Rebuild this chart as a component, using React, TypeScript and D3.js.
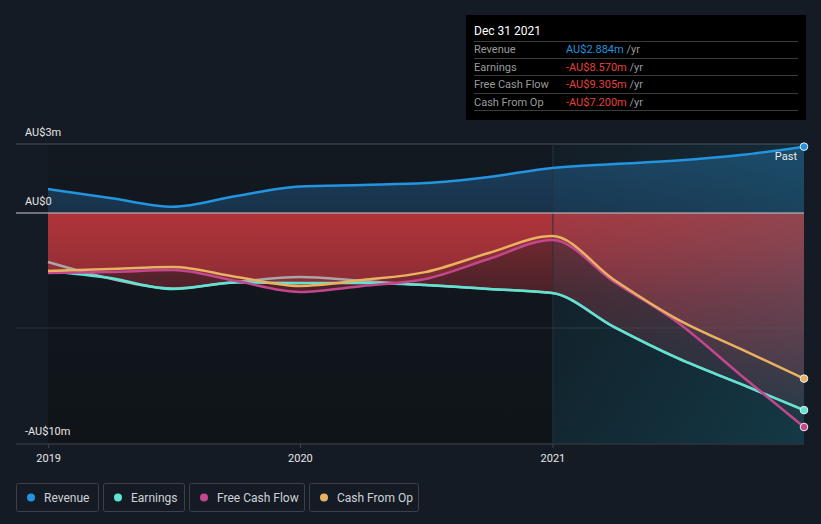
import React from "react";
import * as d3 from "d3";

const W = 821;
const H = 524;

const dates = [
  "2018-12-31", "2019-03-31", "2019-06-30", "2019-09-30", "2019-12-31",
  "2020-03-31", "2020-06-30", "2020-09-30", "2020-12-31",
  "2021-03-31", "2021-06-30", "2021-09-30", "2021-12-31",
];
const revenue = [1.04, 0.65, 0.27, 0.74, 1.15, 1.22, 1.3, 1.57, 1.96, 2.13, 2.28, 2.52, 2.884];
const earnings = [-2.52, -2.83, -3.3, -3.02, -3.04, -3.04, -3.13, -3.3, -3.48, -4.96, -6.3, -7.43, -8.57];
const freeCashFlow = [-2.61, -2.57, -2.48, -2.96, -3.43, -3.17, -2.87, -2.0, -1.17, -3.0, -4.74, -7.04, -9.305];
const cashFromOp = [-2.52, -2.43, -2.35, -2.78, -3.17, -2.91, -2.57, -1.74, -1.0, -2.91, -4.61, -5.91, -7.2];
const grayLine = [-2.13, -2.85, -3.28, -3.0, -2.78, -2.96, -3.13, -3.3, -3.48, -4.96, -6.3, -7.43, -8.57];

const yTicks = [3, 0, -10];
const yTickLabels = ["AU$3m", "AU$0", "-AU$10m"];
const xTicks = ["2019-01-01", "2020-01-01", "2021-01-01"];
const xTickLabels = ["2019", "2020", "2021"];

const legendNames = ["Revenue", "Earnings", "Free Cash Flow", "Cash From Op"];
const colors = ["#2394df", "#5fe3d3", "#c4468f", "#e8b260"];

const tooltipTitle = "Dec 31 2021";
const tooltipValues = ["AU$2.884m", "-AU$8.570m", "-AU$9.305m", "-AU$7.200m"];

const parse = d3.timeParse("%Y-%m-%d");

export default function App() {
  const dts = dates.map((d) => parse(d) as Date);
  const x = d3.scaleTime().domain([dts[0], dts[dts.length - 1]]).range([48, 804]);
  const y = d3.scaleLinear().domain([-10, 3]).range([443, 144]);
  const line = (vals: number[]) =>
    d3.line<number>().x((_, i) => x(dts[i])).y((v) => y(v)).curve(d3.curveMonotoneX)(vals) || "";
  const area = (vals: number[]) =>
    d3.area<number>().x((_, i) => x(dts[i])).y0(y(0)).y1((v) => y(v)).curve(d3.curveMonotoneX)(vals) || "";

  const pastX = x(parse("2021-01-01") as Date);
  const font = "Roboto, 'Open Sans', sans-serif";
  const series = [revenue, earnings, freeCashFlow, cashFromOp];

  const legendWidths = [82, 81, 115, 109];
  let lx = 16;
  const legendPos = legendWidths.map((w) => {
    const p = lx;
    lx += w + 5;
    return p;
  });

  return (
    <div style={{ position: "fixed", left: 0, top: 0, width: W, height: H }}>
      <svg width={W} height={H} style={{ display: "block", fontFamily: font }}>
        <defs>
          <linearGradient id="bgGrad" x1="0" y1="0" x2="0" y2="1">
            <stop offset="0" stopColor="#131921" />
            <stop offset="1" stopColor="#0f1419" />
          </linearGradient>
          <linearGradient id="redGrad" x1="0" y1={y(0)} x2="0" y2={y(-10)} gradientUnits="userSpaceOnUse">
            <stop offset="0" stopColor="#b3353a" stopOpacity={0.7} />
            <stop offset="0.35" stopColor="#a3303a" stopOpacity={0.4} />
            <stop offset="1" stopColor="#8a2a35" stopOpacity={0.06} />
          </linearGradient>
          <linearGradient id="blueGrad" x1="0" y1={y(3)} x2="0" y2={y(0)} gradientUnits="userSpaceOnUse">
            <stop offset="0" stopColor="#1e4f75" stopOpacity={0.75} />
            <stop offset="1" stopColor="#1b3a58" stopOpacity={0.75} />
          </linearGradient>
          <linearGradient id="pastGrad" x1="0" y1="0" x2="1" y2="1">
            <stop offset="0" stopColor="#1f7fa0" stopOpacity={0.04} />
            <stop offset="1" stopColor="#1f8fb0" stopOpacity={0.3} />
          </linearGradient>
        </defs>
        <rect x={0} y={0} width={W} height={H} fill="#151b24" />
        <rect x={48} y={y(3)} width={804 - 48} height={y(-10) - y(3)} fill="url(#bgGrad)" />

        <line x1={16} x2={804} y1={y(3)} y2={y(3)} stroke="#4a5058" strokeWidth={1} />
        <line x1={16} x2={804} y1={y(-5)} y2={y(-5)} stroke="#2a3038" strokeWidth={1} />

        <path d={area(revenue)} fill="url(#blueGrad)" />
        {[earnings, freeCashFlow, cashFromOp].map((s, i) => (
          <path key={i} d={area(s)} fill="url(#redGrad)" />
        ))}

        <rect x={pastX} y={y(3)} width={804 - pastX} height={y(-10) - y(3)} fill="url(#pastGrad)" />
        <line x1={pastX} x2={pastX} y1={y(3)} y2={y(-10)} stroke="#25333c" strokeWidth={1} />

        <line x1={16} x2={804} y1={y(0)} y2={y(0)} stroke="#c9c9c9" strokeWidth={1.2} />
        <line x1={16} x2={804} y1={y(-10) + 1} y2={y(-10) + 1} stroke="#3f454d" strokeWidth={1} />

        <path d={line(grayLine)} fill="none" stroke="#a8a8a8" strokeWidth={2.5} />
        {series.map((s, i) => (
          <path key={i} d={line(s)} fill="none" stroke={colors[i]} strokeWidth={2.5} />
        ))}
        {series.map((s, i) => (
          <circle key={i} cx={x(dts[dts.length - 1])} cy={y(s[s.length - 1])} r={3.8} fill={colors[i]} stroke="#e8eef2" strokeWidth={1} />
        ))}
        <text x={797} y={160} fill="#e8e8e8" fontSize={11} textAnchor="end">Past</text>

        {yTicks.map((t, i) => (
          <text key={i} x={25} y={y(t) - 8} fill="#e6e6e6" fontSize={11}>{yTickLabels[i]}</text>
        ))}

        {xTicks.map((t, i) => {
          const xx = x(parse(t) as Date);
          return (
            <g key={i}>
              <line x1={xx} x2={xx} y1={y(-10) + 1} y2={y(-10) + 5} stroke="#3f454d" />
              <text x={xx} y={462} fill="#e6e6e6" fontSize={11} textAnchor="middle">{xTickLabels[i]}</text>
            </g>
          );
        })}

        {legendNames.map((n, i) => (
          <g key={n} transform={`translate(${legendPos[i]},483)`}>
            <rect x={0.5} y={0.5} width={legendWidths[i]} height={28} rx={2} fill="none" stroke="#3b4049" />
            <circle cx={15} cy={14.5} r={4} fill={colors[i]} />
            <text x={28} y={18.5} fill="#cfd2d6" fontSize={12}>{n}</text>
          </g>
        ))}

        <g transform="translate(466,15)">
          <rect x={0} y={0} width={340} height={105} fill="#000000" />
          <text x={8} y={20} fill="#ffffff" fontSize={12}>{tooltipTitle}</text>
          {[26, 43, 60, 78, 95].map((ly, i) => (
            <line key={i} x1={8} x2={332} y1={ly + 0.5} y2={ly + 0.5} stroke="#3c3c3c" />
          ))}
          {legendNames.map((n, i) => (
            <g key={n}>
              <text x={8} y={38 + i * 17.5} fill="#9a9a9a" fontSize={11}>{n}</text>
              <text x={100} y={38 + i * 17.5} fontSize={11}>
                <tspan fill={i === 0 ? "#2394df" : "#e8413c"}>{tooltipValues[i]}</tspan>
                <tspan fill="#9a9a9a">{" /yr"}</tspan>
              </text>
            </g>
          ))}
        </g>
      </svg>
    </div>
  );
}
